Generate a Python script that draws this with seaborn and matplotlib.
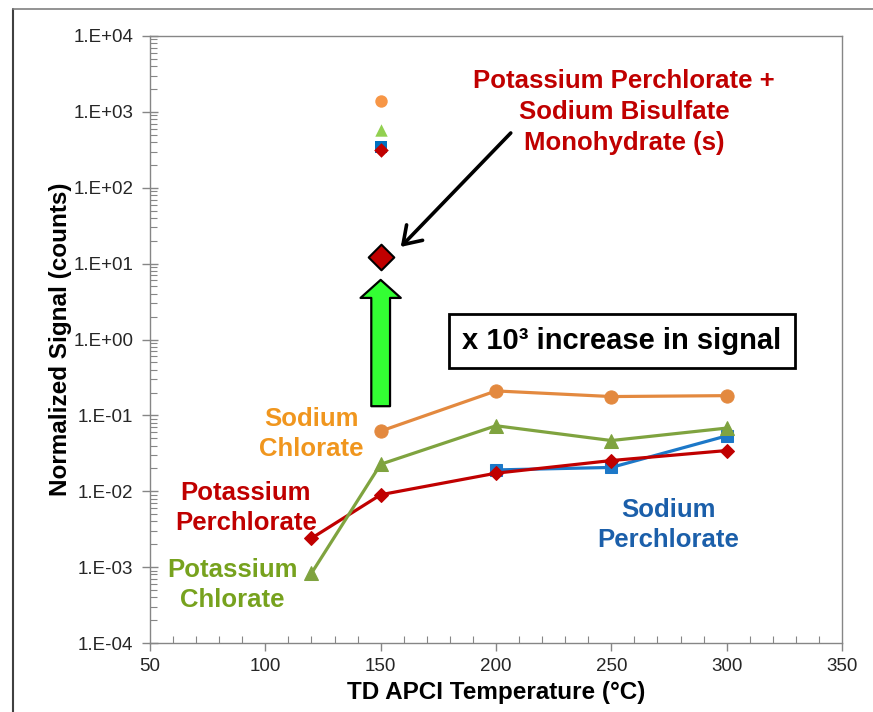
import numpy as np
import pandas as pd
import seaborn as sns
import matplotlib
matplotlib.use("Agg")
import matplotlib.pyplot as plt
from matplotlib import ticker
from matplotlib.lines import Line2D

# ---------------- data ----------------
temps_na_clo3 = [150, 200, 250, 300]
sig_na_clo3 = [0.062, 0.21, 0.177, 0.182]

temps_k_clo3 = [120, 150, 200, 250, 300]
sig_k_clo3 = [0.00083, 0.0227, 0.073, 0.0466, 0.068]

temps_na_clo4 = [200, 250, 300]
sig_na_clo4 = [0.0191, 0.0206, 0.0537]

temps_k_clo4 = [120, 150, 200, 250, 300]
sig_k_clo4 = [0.0024, 0.009, 0.0173, 0.0254, 0.0344]

# single points at 150 C (high signal)
iso_temp = 150
iso_names = ["Sodium Chlorate", "Potassium Chlorate", "Sodium Perchlorate", "Potassium Perchlorate"]
iso_vals = [1400, 578, 345, 316]

mix_temp = 150
mix_val = 12.4

x_ticks = [50, 100, 150, 200, 250, 300, 350]

# ---------------- style ----------------
sns.set_theme(style="white")
plt.rcParams["font.family"] = ["Liberation Sans", "DejaVu Sans"]
plt.rcParams["axes.edgecolor"] = "#868686"

fig = plt.figure(figsize=(8.73, 7.12), dpi=100)
ax = fig.add_axes([150 / 873, 1 - 643 / 712, 692 / 873, 607 / 712])

c_orange_line = "#E3893F"
c_green_line = "#7FA33F"
c_blue_line = "#1C78C8"
c_red_line = "#C00000"

series = [
    ("Sodium Perchlorate", temps_na_clo4, sig_na_clo4, c_blue_line, "s", 8.5),
    ("Potassium Perchlorate", temps_k_clo4, sig_k_clo4, c_red_line, "D", 7.5),
    ("Potassium Chlorate", temps_k_clo3, sig_k_clo3, c_green_line, "^", 9.5),
    ("Sodium Chlorate", temps_na_clo3, sig_na_clo3, c_orange_line, "o", 9.5),
]
for name, t, s, col, mk, ms in series:
    df = pd.DataFrame({"T": t, "S": s})
    sns.lineplot(data=df, x="T", y="S", ax=ax, color=col, marker=mk,
                 markersize=ms, markeredgecolor=col, linewidth=2.3, zorder=3)

iso_colors = ["#F79646", "#92D050", "#0070C0", "#C00000"]
iso_markers = ["o", "^", "s", "D"]
iso_sizes = [80, 80, 75, 55]
for nm, v, col, mk, sz in zip(iso_names, iso_vals, iso_colors, iso_markers, iso_sizes):
    d = pd.DataFrame({"T": [iso_temp], "S": [v]})
    sns.scatterplot(data=d, x="T", y="S", ax=ax, color=col, marker=mk, s=sz,
                    edgecolor=col, linewidth=0, zorder=4)

dmix = pd.DataFrame({"T": [mix_temp], "S": [mix_val]})
sns.scatterplot(data=dmix, x="T", y="S", ax=ax, color="#C00000", marker="D", s=170,
                edgecolor="black", linewidth=1.5, zorder=5)

ax.set_yscale("log")
ax.set_xlim(50, 350)
ax.set_ylim(1e-4, 1e4)
ax.set_xticks(x_ticks)
ax.xaxis.set_minor_locator(ticker.MultipleLocator(10))
ax.yaxis.set_major_locator(ticker.LogLocator(base=10, numticks=20))
ax.yaxis.set_minor_locator(ticker.LogLocator(base=10, subs=np.arange(2, 10), numticks=20))
ax.yaxis.set_minor_formatter(ticker.NullFormatter())
ax.yaxis.set_major_formatter(ticker.FuncFormatter(
    lambda v, pos: f"1.E{int(round(np.log10(v))):+03d}"))

ax.tick_params(axis="y", which="major", direction="inout", length=12, width=1,
               color="#868686", labelsize=13.5, labelcolor="#262626", pad=6, left=True)
ax.tick_params(axis="y", which="minor", direction="in", length=5, width=0.8,
               color="#868686", left=True)
ax.tick_params(axis="x", which="major", direction="out", length=6, width=1,
               color="#868686", labelsize=13.5, labelcolor="#262626", pad=5, bottom=True)
ax.tick_params(axis="x", which="minor", direction="in", length=5, width=0.8,
               color="#868686", bottom=True)
for sp in ax.spines.values():
    sp.set_color("#868686")
    sp.set_linewidth(1.0)

ax.set_xlabel("TD APCI Temperature (°C)", fontsize=17.5, fontweight="bold",
              color="black", labelpad=4)
ax.set_ylabel("Normalized Signal (counts)", fontsize=17.5, fontweight="bold",
              color="black", labelpad=1)

# series labels
lab_kw = dict(transform=ax.transAxes, ha="center", va="center", fontsize=18.5,
              fontweight="bold", linespacing=1.3)
ax.text(0.2327, 0.3443, "Sodium\nChlorate", color="#F0961E", **lab_kw)
ax.text(0.1387, 0.2224, "Potassium\nPerchlorate", color="#C00000", **lab_kw)
ax.text(0.1185, 0.0956, "Potassium\nChlorate", color="#77A21E", **lab_kw)
ax.text(0.7486, 0.1944, "Sodium\nPerchlorate", color="#1B5FAA", **lab_kw)

ax.text(0.685, 0.8748, "Potassium Perchlorate +\nSodium Bisulfate\nMonohydrate (s)",
        transform=ax.transAxes, ha="center", va="center", fontsize=18.5,
        fontweight="bold", color="#C00000", linespacing=1.35)

ax.text(0.682, 0.4975, "x 10³ increase in signal", transform=ax.transAxes,
        ha="center", va="center", fontsize=21, fontweight="bold", color="black",
        bbox=dict(boxstyle="square,pad=0.45", fc="white", ec="black", lw=2))

# green arrow (signal increase)
ax.annotate("", xy=(mix_temp, mix_val / 2.03), xytext=(mix_temp, sig_na_clo3[0] * 2.13),
            arrowprops=dict(arrowstyle="simple,head_length=13,head_width=29,tail_width=13.5",
                            mutation_scale=1, fc="#33FF33", ec="black", lw=1.6,
                            shrinkA=0, shrinkB=0), zorder=2)

# black pointer arrow
ax.annotate("", xy=(158.7, 16.6), xytext=(206.4, 527),
            arrowprops=dict(arrowstyle="->,head_length=0.6,head_width=0.4",
                            mutation_scale=20, color="black", lw=2.6,
                            shrinkA=0, shrinkB=0))

# outer frame
fig.add_artist(Line2D([13 / 873, 13 / 873], [0, 1 - 9 / 712], color="#404040", lw=1.5))
fig.add_artist(Line2D([13 / 873, 1], [1 - 9 / 712, 1 - 9 / 712], color="#808080", lw=1.2))

fig.savefig("out.png", dpi=100)
